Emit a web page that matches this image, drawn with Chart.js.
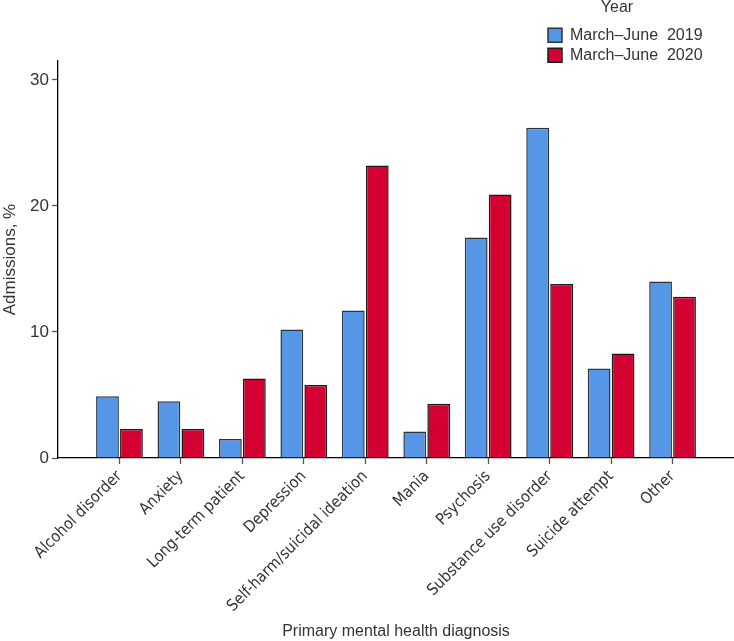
<!DOCTYPE html>
<html>
<head>
<meta charset="utf-8">
<script src="https://cdn.jsdelivr.net/npm/chart.js@4/dist/chart.umd.min.js"></script>
<style>
  html, body { margin: 0; padding: 0; background: #fff; }
  #wrap { width: 734px; height: 641px; position: relative; }
</style>
</head>
<body>
<div id="wrap"><canvas id="c"></canvas></div>
<script>
const categories = ["Alcohol disorder", "Anxiety", "Long-term patient", "Depression", "Self-harm/suicidal ideation", "Mania", "Psychosis", "Substance use disorder", "Suicide attempt", "Other"];
const series2019 = [4.9, 4.5, 1.5, 10.2, 11.7, 2.1, 17.5, 26.2, 7.1, 14.0];
const series2020 = [2.3, 2.3, 6.3, 5.8, 23.2, 4.3, 20.9, 13.8, 8.3, 12.8];
const seriesNames = ["March\u2013June  2019", "March\u2013June  2020"];
const yTicks = [0, 10, 20, 30];

const FONT = "'Liberation Sans', Arial, sans-serif";
const NARROW = "'Liberation Sans Narrow', 'DejaVu Sans Condensed', 'Liberation Sans', sans-serif";
const TEXT = "#333";

const legendPlacer = {
  id: "legendPlacer",
  afterLayout(chart) {
    const lg = chart.legend;
    if (!lg) return;
    lg.left = 544; lg.top = 0; lg.right = 734; lg.bottom = 70;
    lg.width = 146; lg.height = 70;
  }
};

new Chart(document.getElementById("c"), {
  type: "bar",
  data: {
    labels: categories,
    datasets: [
      { label: seriesNames[0], data: series2019, backgroundColor: "#5596E6", borderColor: "#2b3440", borderWidth: 1.5 },
      { label: seriesNames[1], data: series2020, backgroundColor: "#D50032", borderColor: "#1a1a1a", borderWidth: 1.5 }
    ]
  },
  plugins: [legendPlacer],
  options: {
    responsive: true,
    maintainAspectRatio: false,
    animation: false,
    layout: { padding: { left: 0, right: 0, top: 61, bottom: 0 } },
    datasets: { bar: { categoryPercentage: 0.78, barPercentage: 0.95 } },
    plugins: {
      tooltip: { enabled: false },
      legend: {
        position: "chartArea",
        align: "start",
        title: { display: true, text: "Year", color: TEXT, font: { family: FONT, size: 16 }, padding: { top: 0, bottom: 4 } },
        labels: { color: TEXT, font: { family: FONT, size: 16 }, boxWidth: 14, boxHeight: 14, padding: 4 }
      }
    },
    scales: {
      x: {
        offset: false,
        afterDataLimits: s => { s.min = -1; s.max = categories.length; },
        afterBuildTicks: s => {
          s._startValue = -1;
          s._valueRange = categories.length + 1;
          s.ticks = s.ticks.filter(t => t.value >= 0 && t.value < categories.length);
        },
        afterFit: s => { s.height = 183; },
        border: { display: true, color: "#000", width: 1.3 },
        grid: { display: true, offset: false, drawOnChartArea: false, drawTicks: true, tickLength: 6, color: "#555", tickWidth: 1.3 },
        ticks: {
          autoSkip: false, maxRotation: 45, minRotation: 45, color: TEXT, padding: 3,
          font: { family: NARROW, size: 16 },
          callback: function (v) { return categories[v]; }
        },
        title: { display: true, text: "Primary mental health diagnosis", color: TEXT, font: { family: FONT, size: 16 }, padding: { top: 0, bottom: 0 } }
      },
      y: {
        min: 0,
        max: 31.5,
        afterFit: s => { s.width = 58; },
        afterBuildTicks: s => { s.ticks = yTicks.map(v => ({ value: v })); },
        border: { display: true, color: "#000", width: 1.3 },
        grid: { display: true, drawOnChartArea: false, drawTicks: true, tickLength: 6, color: "#555", tickWidth: 1.3 },
        ticks: { color: TEXT, font: { family: FONT, size: 17 }, padding: 3 },
        title: { display: true, text: "Admissions, %", color: TEXT, font: { family: FONT, size: 17 }, padding: { top: 0, bottom: 0 } }
      }
    }
  }
});
</script>
</body>
</html>
